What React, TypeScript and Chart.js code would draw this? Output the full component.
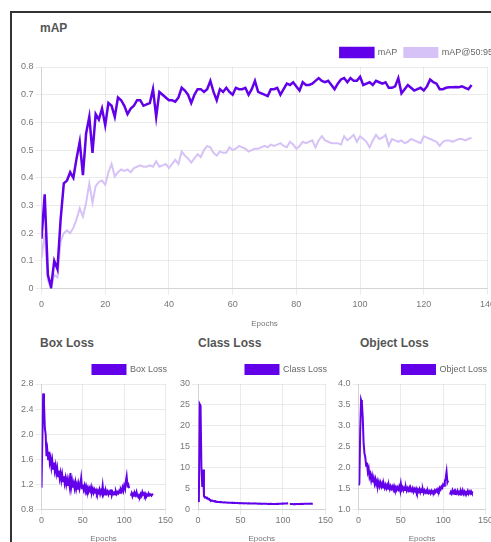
import React, { useEffect, useRef } from "react";
import { Chart, registerables } from "chart.js";

Chart.register(...registerables);

const FONT = "'Liberation Sans', Arial, Helvetica, sans-serif";
Chart.defaults.font.family = FONT;
Chart.defaults.color = "#666";

// ---------- data ----------
const epochs: number[] = Array.from({ length: 136 }, (_, i) => i);

const mAP: number[] = [
  0.18, 0.34, 0.05, 0.005, 0.1, 0.07, 0.25, 0.38, 0.39, 0.42,
  0.4, 0.47, 0.53, 0.41, 0.56, 0.62, 0.49, 0.63, 0.61, 0.65,
  0.59, 0.67, 0.66, 0.62, 0.69, 0.68, 0.66, 0.63, 0.65, 0.66,
  0.68, 0.68, 0.66, 0.665, 0.67, 0.72, 0.62, 0.71, 0.7, 0.69,
  0.68, 0.68, 0.675, 0.69, 0.725, 0.715, 0.7, 0.67, 0.7, 0.72,
  0.72, 0.71, 0.72, 0.75, 0.71, 0.68, 0.72, 0.71, 0.725, 0.71,
  0.7, 0.725, 0.72, 0.72, 0.725, 0.7, 0.72, 0.75, 0.71, 0.705,
  0.7, 0.695, 0.72, 0.72, 0.725, 0.7, 0.72, 0.74, 0.735, 0.745,
  0.73, 0.715, 0.745, 0.735, 0.735, 0.74, 0.75, 0.76, 0.75, 0.745,
  0.75, 0.735, 0.72, 0.74, 0.755, 0.76, 0.745, 0.76, 0.75, 0.75,
  0.765, 0.735, 0.74, 0.745, 0.735, 0.75, 0.745, 0.74, 0.745, 0.725,
  0.725, 0.73, 0.76, 0.705, 0.72, 0.735, 0.725, 0.715, 0.72, 0.725,
  0.715, 0.73, 0.755, 0.745, 0.74, 0.72, 0.72, 0.725, 0.727, 0.727,
  0.728, 0.727, 0.73, 0.725, 0.72, 0.735,
];

const mAP5095: number[] = [
  0.11, 0.2, 0.03, 0.0, 0.05, 0.04, 0.17, 0.2, 0.21, 0.2,
  0.22, 0.25, 0.29, 0.26, 0.31, 0.38, 0.31, 0.37, 0.385, 0.39,
  0.375, 0.42, 0.45, 0.405, 0.42, 0.43, 0.425, 0.43, 0.42, 0.435,
  0.44, 0.445, 0.44, 0.44, 0.445, 0.44, 0.46, 0.44, 0.445, 0.45,
  0.435, 0.45, 0.465, 0.45, 0.495, 0.48, 0.47, 0.455, 0.47, 0.485,
  0.475, 0.5, 0.515, 0.51, 0.49, 0.48, 0.495, 0.49, 0.49, 0.51,
  0.5, 0.505, 0.515, 0.51, 0.505, 0.495, 0.5, 0.505, 0.505, 0.51,
  0.515, 0.51, 0.52, 0.515, 0.52, 0.525, 0.515, 0.51, 0.53, 0.52,
  0.505, 0.515, 0.53, 0.525, 0.53, 0.535, 0.51, 0.535, 0.55, 0.535,
  0.53, 0.525, 0.525, 0.525, 0.52, 0.55, 0.535, 0.545, 0.555, 0.53,
  0.55, 0.54, 0.53, 0.51, 0.535, 0.555, 0.54, 0.545, 0.555, 0.515,
  0.54, 0.535, 0.53, 0.535, 0.525, 0.53, 0.54, 0.535, 0.53, 0.525,
  0.55, 0.545, 0.54, 0.535, 0.53, 0.515, 0.53, 0.535, 0.535, 0.53,
  0.535, 0.54, 0.54, 0.535, 0.54, 0.545,
];

const boxLoss: (number | null)[] = [
  1.15, 1.9, 2.65, 2.5, 2.1, 2.0, 1.65, 1.75, 1.6, 1.72,
  1.55, 1.62, 1.48, 1.58, 1.45, 1.55, 1.42, 1.5, 1.38, 1.46,
  1.33, 1.42, 1.3, 1.38, 1.27, 1.36, 1.25, 1.33, 1.22, 1.3,
  1.2, 1.28, 1.18, 1.26, 1.17, 1.38, 1.16, 1.25, 1.15, 1.22,
  1.14, 1.23, 1.13, 1.2, 1.12, 1.21, 1.13, 1.19, 1.3, 1.14,
  1.2, 1.12, 1.18, 1.1, 1.17, 1.11, 1.15, 1.09, 1.14, 1.1,
  1.16, 1.08, 1.13, 1.07, 1.12, 1.08, 1.11, 1.06, 1.1, 1.07,
  1.12, 1.05, 1.1, 1.06, 1.18, 1.05, 1.09, 1.04, 1.1, 1.06,
  1.09, 1.04, 1.08, 1.05, 1.12, 1.03, 1.08, 1.05, 1.07, 1.04,
  1.09, 1.05, 1.08, 1.06, 1.1, 1.07, 1.12, 1.09, 1.15, 1.1,
  1.18, 1.14, 1.25, 1.33, 1.18, 1.2, 1.14, null, 1.02, 1.06,
  1.01, 1.05, 1.02, 1.06, 1.03, 1.08, 1.02, 1.0, 1.03, 1.01,
  1.05, 1.02, 1.08, 1.04, 1.06, 1.02, 1.05, 1.01, 1.04, 1.02,
  1.05, 1.03, 1.04, 1.02, 1.04, 1.03,
];

const classLoss: (number | null)[] = [
  3.6, 1.8, 25.2, 24.8, 10.0, 5.4, 9.6, 3.2, 2.9, 3.0,
  2.7, 2.8, 2.5, 2.55, 2.3, 2.25, 2.1, 2.15, 2.0, 2.05,
  1.9, 1.95, 1.85, 1.88, 1.8, 1.82, 1.76, 1.8, 1.74, 1.76,
  1.7, 1.73, 1.68, 1.7, 1.66, 1.69, 1.64, 1.66, 1.62, 1.65,
  1.6, 1.62, 1.58, 1.61, 1.57, 1.59, 1.55, 1.58, 1.54, 1.57,
  1.53, 1.55, 1.52, 1.54, 1.5, 1.53, 1.49, 1.51, 1.48, 1.5,
  1.47, 1.49, 1.46, 1.48, 1.45, 1.47, 1.44, 1.46, 1.43, 1.45,
  1.42, 1.44, 1.41, 1.43, 1.4, 1.42, 1.39, 1.41, 1.38, 1.4,
  1.37, 1.39, 1.36, 1.38, 1.35, 1.37, 1.34, 1.36, 1.33, 1.35,
  1.34, 1.36, 1.35, 1.38, 1.37, 1.4, 1.39, 1.42, 1.41, 1.44,
  1.43, 1.46, 1.45, 1.48, 1.47, 1.5, 1.48, null, 1.32, 1.34,
  1.31, 1.33, 1.3, 1.33, 1.31, 1.34, 1.32, 1.35, 1.33, 1.36,
  1.34, 1.37, 1.35, 1.38, 1.36, 1.39, 1.37, 1.4, 1.38, 1.41,
  1.39, 1.42, 1.4, 1.43, 1.41, 1.42,
];

const objectLoss: (number | null)[] = [
  1.58, 1.62, 2.9, 3.62, 3.55, 3.2, 2.6, 2.35, 2.25, 2.05,
  2.12, 1.9, 1.98, 1.78, 1.85, 1.7, 1.8, 1.65, 1.75, 1.62,
  1.72, 1.6, 1.68, 1.57, 1.66, 1.56, 1.64, 1.55, 1.62, 1.53,
  1.6, 1.52, 1.59, 1.51, 1.58, 1.5, 1.57, 1.49, 1.56, 1.5,
  1.55, 1.48, 1.56, 1.49, 1.54, 1.47, 1.53, 1.48, 1.55, 1.47,
  1.62, 1.48, 1.53, 1.46, 1.52, 1.47, 1.53, 1.45, 1.51, 1.46,
  1.52, 1.44, 1.5, 1.45, 1.51, 1.43, 1.49, 1.44, 1.5, 1.42,
  1.48, 1.43, 1.49, 1.41, 1.47, 1.42, 1.48, 1.4, 1.46, 1.41,
  1.45, 1.39, 1.45, 1.4, 1.44, 1.39, 1.45, 1.4, 1.44, 1.41,
  1.46, 1.42, 1.47, 1.43, 1.49, 1.45, 1.52, 1.48, 1.55, 1.52,
  1.6, 1.57, 1.68, 1.75, 1.9, 1.65, 1.7, null, 1.36, 1.42,
  1.38, 1.46, 1.4, 1.44, 1.37, 1.43, 1.39, 1.45, 1.38, 1.42,
  1.36, 1.44, 1.39, 1.46, 1.38, 1.43, 1.37, 1.42, 1.4, 1.45,
  1.38, 1.43, 1.39, 1.44, 1.4, 1.42,
];

const DARK = "#6200ea";
const LIGHT = "#d6c2f7";

// ---------- helpers ----------
const pts = (vals: (number | null)[]) =>
  vals.map((v, i) => ({ x: epochs[i], y: v }));

const tickFont = { size: 9, family: FONT };

function lossConfig(
  label: string,
  vals: (number | null)[],
  yMin: number,
  yMax: number,
  yStep: number,
  decimals: number
): any {
  return {
    type: "line",
    data: {
      datasets: [
        {
          label,
          data: pts(vals),
          borderColor: DARK,
          backgroundColor: DARK,
          borderWidth: 2,
          pointRadius: 0,
          tension: 0,
        },
      ],
    },
    options: {
      animation: false,
      responsive: true,
      maintainAspectRatio: false,
      events: [],
      plugins: {
        legend: {
          position: "top",
          align: "end",
          labels: { boxWidth: 33, boxHeight: 9, padding: 7, font: tickFont, color: "#666" },
        },
        tooltip: { enabled: false },
      },
      scales: {
        x: {
          type: "linear",
          min: 0,
          max: 150,
          ticks: { stepSize: 50, font: tickFont, color: "#777", padding: 1, maxRotation: 0 },
          grid: { tickLength: 5, color: "rgba(0,0,0,0.08)" },
          title: { display: true, text: "Epochs", font: { size: 8, family: FONT }, color: "#777", padding: { top: 7, bottom: 2 } },
        },
        y: {
          min: yMin,
          max: yMax,
          ticks: {
            stepSize: yStep,
            font: tickFont,
            color: "#777",
            padding: 2,
            callback: (v: any) => Number(v).toFixed(decimals),
          },
          grid: { tickLength: 6, color: "rgba(0,0,0,0.08)" },
        },
      },
    },
  };
}

const mainConfig: any = {
  type: "line",
  data: {
    datasets: [
      {
        label: "mAP",
        data: pts(mAP),
        borderColor: DARK,
        backgroundColor: DARK,
        borderWidth: 2.5,
        pointRadius: 0,
        tension: 0,
      },
      {
        label: "mAP@50:95",
        data: pts(mAP5095),
        borderColor: LIGHT,
        backgroundColor: LIGHT,
        borderWidth: 2,
        pointRadius: 0,
        tension: 0,
      },
    ],
  },
  options: {
    animation: false,
    responsive: true,
    maintainAspectRatio: false,
    events: [],
    plugins: {
      legend: {
        position: "top",
        align: "end",
        labels: { boxWidth: 33, boxHeight: 9, padding: 7, font: tickFont, color: "#666" },
      },
      tooltip: { enabled: false },
    },
    scales: {
      x: {
        type: "linear",
        min: 0,
        max: 140,
        ticks: { stepSize: 20, font: tickFont, color: "#777", padding: 5, maxRotation: 0 },
        grid: { tickLength: 6, color: "rgba(0,0,0,0.08)" },
        title: { display: true, text: "Epochs", font: { size: 8, family: FONT }, color: "#777", padding: { top: 4, bottom: 2 } },
      },
      y: {
        min: 0,
        max: 0.8,
        ticks: { stepSize: 0.1, font: tickFont, color: "#777", padding: 2 },
        grid: { tickLength: 6, color: "rgba(0,0,0,0.08)" },
      },
    },
  },
};

function ChartBox({ config, style }: { config: any; style: React.CSSProperties }) {
  const ref = useRef<HTMLCanvasElement | null>(null);
  useEffect(() => {
    if (!ref.current) return;
    const chart = new Chart(ref.current, config);
    return () => chart.destroy();
  }, [config]);
  return (
    <div style={{ position: "absolute", ...style }}>
      <canvas ref={ref} />
    </div>
  );
}

const titleStyle: React.CSSProperties = {
  position: "absolute",
  fontFamily: FONT,
  fontWeight: "bold",
  fontSize: 12,
  lineHeight: "14px",
  color: "#555",
  whiteSpace: "nowrap",
};

const boxCfg = lossConfig("Box Loss", boxLoss, 0.8, 2.8, 0.4, 1);
const classCfg = lossConfig("Class Loss", classLoss, 0, 30, 5, 0);
const objectCfg = lossConfig("Object Loss", objectLoss, 1.0, 4.0, 0.5, 1);

export default function App() {
  return (
    <div
      style={{
        position: "fixed",
        left: 0,
        top: 0,
        width: 491,
        height: 542,
        overflow: "hidden",
        background: "#fff",
      }}
    >
      <div
        style={{
          position: "absolute",
          left: 10,
          top: 11,
          width: 600,
          height: 700,
          border: "2px solid #333",
          boxSizing: "border-box",
        }}
      />
      <div style={{ ...titleStyle, left: 40, top: 21 }}>mAP</div>
      <ChartBox config={mainConfig} style={{ left: 19, top: 41, width: 481, height: 290 }} />

      <div style={{ ...titleStyle, left: 40, top: 336 }}>Box Loss</div>
      <div style={{ ...titleStyle, left: 198, top: 336 }}>Class Loss</div>
      <div style={{ ...titleStyle, left: 360, top: 336 }}>Object Loss</div>

      <ChartBox config={boxCfg} style={{ left: 19, top: 358, width: 155, height: 188 }} />
      <ChartBox config={classCfg} style={{ left: 178, top: 358, width: 156, height: 188 }} />
      <ChartBox config={objectCfg} style={{ left: 336, top: 358, width: 158, height: 188 }} />
    </div>
  );
}
